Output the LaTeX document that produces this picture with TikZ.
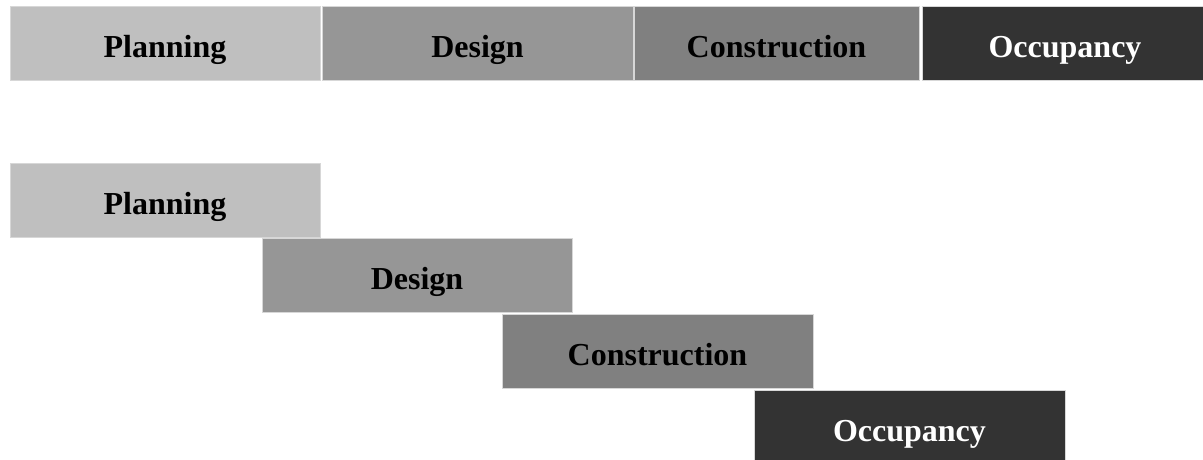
\documentclass[tikz,border=0pt]{standalone}
\usepackage{fontspec}
\setmainfont{Liberation Serif}
\definecolor{cPlan}{RGB}{191,191,191}
\definecolor{cDes}{RGB}{150,150,150}
\definecolor{cCon}{RGB}{128,128,128}
\definecolor{cOcc}{RGB}{51,51,51}
\definecolor{cEdge}{RGB}{215,215,215}
\tikzset{
  phase/.style={rectangle, anchor=north west, inner sep=0pt, outer sep=0pt,
    minimum height=74pt, text height=28pt, text depth=0pt,
    draw=cEdge, line width=0.6pt,
    font=\fontsize{32}{38}\selectfont\bfseries},
}
\begin{document}
\begin{tikzpicture}[x=1pt,y=-1pt]
\useasboundingbox (0,0) rectangle (1203,459);
\clip (0,0) rectangle (1203,459);
% top bar
\node[phase, fill=cPlan, minimum width=310pt] (tp) at (10,6) {Planning};
\node[phase, fill=cDes, minimum width=311pt] (td) at (322,6) {Design};
\node[phase, fill=cCon, minimum width=285pt] (tc) at (634,6) {Construction};
\node[phase, fill=cOcc, text=white, minimum width=286pt] (to) at (922,6) {Occupancy};
% staggered
\node[phase, fill=cPlan, minimum width=310pt] (bp) at (10,163) {Planning};
\node[phase, fill=cDes, minimum width=310pt] (bd) at (262,238.5) {Design};
\node[phase, fill=cCon, minimum width=311pt] (bc) at (502,314.5) {Construction};
\node[phase, fill=cOcc, text=white, minimum width=311pt] (bo) at (754,390) {Occupancy};
\end{tikzpicture}
\end{document}
